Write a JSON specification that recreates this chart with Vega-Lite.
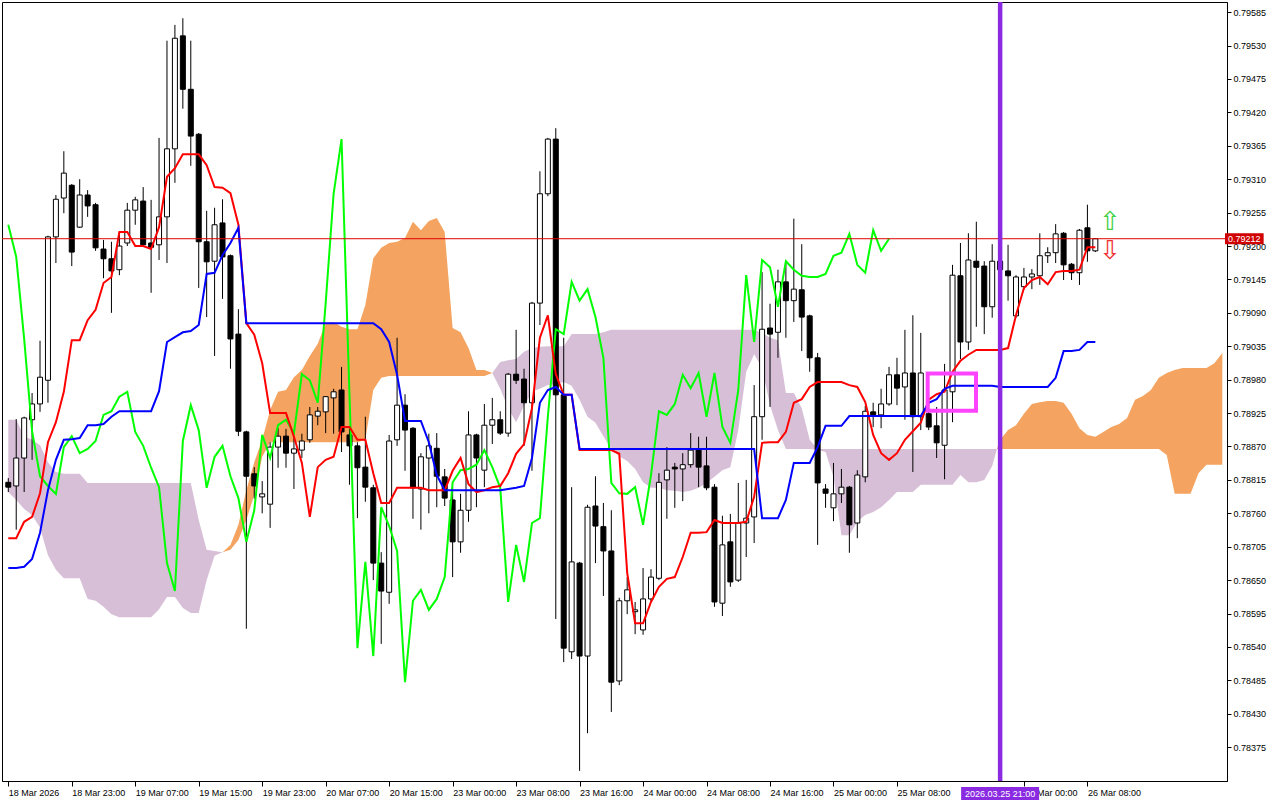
{
"$schema":"https://vega.github.io/schema/vega-lite/v6.json",
"width":1225,"height":779,
"autosize":{"type":"none"},
"padding":{"left":2,"top":2,"right":53,"bottom":19},
"background":"#ffffff",
"resolve":{"axis":{"x":"independent","y":"independent"}},
"config":{"view":{"stroke":"#000000","strokeWidth":1},"axis":{"labelFont":"Liberation Sans","labelFontSize":9,"labelColor":"#000000","tickColor":"#000000","domainColor":"#000000","grid":false,"title":null,"labelOverlap":false}},
"datasets":{
"candles":[
{"i":0,"o":0.78811,"h":0.78818,"l":0.78795,"c":0.78803},
{"i":1,"o":0.78805,"h":0.78915,"l":0.78733,"c":0.78851},
{"i":2,"o":0.78851,"h":0.78919,"l":0.78795,"c":0.78917},
{"i":3,"o":0.78914,"h":0.78958,"l":0.78848,"c":0.78940},
{"i":4,"o":0.78940,"h":0.79044,"l":0.78927,"c":0.78984},
{"i":5,"o":0.78979,"h":0.79217,"l":0.78942,"c":0.79215},
{"i":6,"o":0.79215,"h":0.79284,"l":0.79172,"c":0.79277},
{"i":7,"o":0.79279,"h":0.79356,"l":0.79254,"c":0.79320},
{"i":8,"o":0.79300,"h":0.79302,"l":0.79167,"c":0.79190},
{"i":9,"o":0.79231,"h":0.79310,"l":0.79230,"c":0.79284},
{"i":10,"o":0.79284,"h":0.79292,"l":0.79248,"c":0.79266},
{"i":11,"o":0.79268,"h":0.79271,"l":0.79192,"c":0.79197},
{"i":12,"o":0.79195,"h":0.79210,"l":0.79147,"c":0.79179},
{"i":13,"o":0.79179,"h":0.79207,"l":0.79090,"c":0.79159},
{"i":14,"o":0.79161,"h":0.79223,"l":0.79152,"c":0.79200},
{"i":15,"o":0.79205,"h":0.79271,"l":0.79200,"c":0.79259},
{"i":16,"o":0.79259,"h":0.79281,"l":0.79235,"c":0.79276},
{"i":17,"o":0.79274,"h":0.79297,"l":0.79200,"c":0.79202},
{"i":18,"o":0.79205,"h":0.79276,"l":0.79123,"c":0.79198},
{"i":19,"o":0.79202,"h":0.79378,"l":0.79177,"c":0.79248},
{"i":20,"o":0.79248,"h":0.79538,"l":0.79172,"c":0.79360},
{"i":21,"o":0.79360,"h":0.79564,"l":0.79304,"c":0.79542},
{"i":22,"o":0.79546,"h":0.79575,"l":0.79426,"c":0.79458},
{"i":23,"o":0.79458,"h":0.79538,"l":0.79332,"c":0.79381},
{"i":24,"o":0.79384,"h":0.79386,"l":0.79131,"c":0.79207},
{"i":25,"o":0.79207,"h":0.79258,"l":0.79083,"c":0.79174},
{"i":26,"o":0.79175,"h":0.79263,"l":0.79019,"c":0.79235},
{"i":27,"o":0.79238,"h":0.79277,"l":0.79113,"c":0.79182},
{"i":28,"o":0.79184,"h":0.79186,"l":0.78998,"c":0.79047},
{"i":29,"o":0.79055,"h":0.79096,"l":0.78887,"c":0.78895},
{"i":30,"o":0.78894,"h":0.78896,"l":0.78570,"c":0.78821},
{"i":31,"o":0.78825,"h":0.78836,"l":0.78784,"c":0.78805},
{"i":32,"o":0.78787,"h":0.78813,"l":0.78760,"c":0.78792},
{"i":33,"o":0.78775,"h":0.78877,"l":0.78736,"c":0.78869},
{"i":34,"o":0.78869,"h":0.78900,"l":0.78835,"c":0.78887},
{"i":35,"o":0.78887,"h":0.78899,"l":0.78835,"c":0.78859},
{"i":36,"o":0.78859,"h":0.78887,"l":0.78800,"c":0.78866},
{"i":37,"o":0.78864,"h":0.78891,"l":0.78851,"c":0.78879},
{"i":38,"o":0.78881,"h":0.78935,"l":0.78876,"c":0.78922},
{"i":39,"o":0.78920,"h":0.78935,"l":0.78905,"c":0.78928},
{"i":40,"o":0.78927,"h":0.78953,"l":0.78892,"c":0.78952},
{"i":41,"o":0.78950,"h":0.78965,"l":0.78891,"c":0.78960},
{"i":42,"o":0.78963,"h":0.79001,"l":0.78861,"c":0.78894},
{"i":43,"o":0.78889,"h":0.78900,"l":0.78807,"c":0.78871},
{"i":44,"o":0.78871,"h":0.78877,"l":0.78752,"c":0.78835},
{"i":45,"o":0.78836,"h":0.78919,"l":0.78779,"c":0.78803},
{"i":46,"o":0.78802,"h":0.78807,"l":0.78650,"c":0.78678},
{"i":47,"o":0.78678,"h":0.78696,"l":0.78545,"c":0.78632},
{"i":48,"o":0.78630,"h":0.78889,"l":0.78611,"c":0.78879},
{"i":49,"o":0.78881,"h":0.79049,"l":0.78871,"c":0.78938},
{"i":50,"o":0.78938,"h":0.78956,"l":0.78830,"c":0.78897},
{"i":51,"o":0.78900,"h":0.78902,"l":0.78751,"c":0.78802},
{"i":52,"o":0.78800,"h":0.78859,"l":0.78733,"c":0.78853},
{"i":53,"o":0.78851,"h":0.78891,"l":0.78760,"c":0.78871},
{"i":54,"o":0.78867,"h":0.78892,"l":0.78770,"c":0.78821},
{"i":55,"o":0.78820,"h":0.78833,"l":0.78772,"c":0.78785},
{"i":56,"o":0.78782,"h":0.78803,"l":0.78655,"c":0.78713},
{"i":57,"o":0.78713,"h":0.78792,"l":0.78695,"c":0.78765},
{"i":58,"o":0.78765,"h":0.78928,"l":0.78746,"c":0.78889},
{"i":59,"o":0.78889,"h":0.78891,"l":0.78770,"c":0.78851},
{"i":60,"o":0.78831,"h":0.78940,"l":0.78803,"c":0.78905},
{"i":61,"o":0.78905,"h":0.78950,"l":0.78874,"c":0.78914},
{"i":62,"o":0.78914,"h":0.78928,"l":0.78889,"c":0.78892},
{"i":63,"o":0.78892,"h":0.78991,"l":0.78886,"c":0.78989},
{"i":64,"o":0.78989,"h":0.79062,"l":0.78973,"c":0.78979},
{"i":65,"o":0.78981,"h":0.78998,"l":0.78871,"c":0.78942},
{"i":66,"o":0.78942,"h":0.79108,"l":0.78830,"c":0.79106},
{"i":67,"o":0.79106,"h":0.79323,"l":0.79070,"c":0.79286},
{"i":68,"o":0.79286,"h":0.79378,"l":0.79282,"c":0.79376},
{"i":69,"o":0.79376,"h":0.79394,"l":0.78586,"c":0.78955},
{"i":70,"o":0.78955,"h":0.79049,"l":0.78515,"c":0.78538},
{"i":71,"o":0.78532,"h":0.78803,"l":0.78520,"c":0.78680},
{"i":72,"o":0.78678,"h":0.78680,"l":0.78336,"c":0.78525},
{"i":73,"o":0.78525,"h":0.78774,"l":0.78398,"c":0.78770},
{"i":74,"o":0.78772,"h":0.78821,"l":0.78678,"c":0.78739},
{"i":75,"o":0.78738,"h":0.78777,"l":0.78624,"c":0.78698},
{"i":76,"o":0.78698,"h":0.78765,"l":0.78433,"c":0.78482},
{"i":77,"o":0.78484,"h":0.78621,"l":0.78477,"c":0.78616},
{"i":78,"o":0.78616,"h":0.78655,"l":0.78594,"c":0.78634},
{"i":79,"o":0.78598,"h":0.78614,"l":0.78561,"c":0.78601},
{"i":80,"o":0.78568,"h":0.78670,"l":0.78560,"c":0.78619},
{"i":81,"o":0.78619,"h":0.78668,"l":0.78614,"c":0.78655},
{"i":82,"o":0.78653,"h":0.78826,"l":0.78650,"c":0.78811},
{"i":83,"o":0.78815,"h":0.78869,"l":0.78751,"c":0.78831},
{"i":84,"o":0.78836,"h":0.78843,"l":0.78769,"c":0.78833},
{"i":85,"o":0.78833,"h":0.78859,"l":0.78780,"c":0.78840},
{"i":86,"o":0.78840,"h":0.78892,"l":0.78835,"c":0.78864},
{"i":87,"o":0.78866,"h":0.78886,"l":0.78803,"c":0.78836},
{"i":88,"o":0.78838,"h":0.78886,"l":0.78798,"c":0.78802},
{"i":89,"o":0.78803,"h":0.78808,"l":0.78606,"c":0.78614},
{"i":90,"o":0.78612,"h":0.78756,"l":0.78591,"c":0.78708},
{"i":91,"o":0.78713,"h":0.78759,"l":0.78639,"c":0.78647},
{"i":92,"o":0.78650,"h":0.78810,"l":0.78647,"c":0.78744},
{"i":93,"o":0.78744,"h":0.78815,"l":0.78688,"c":0.78752},
{"i":94,"o":0.78754,"h":0.78971,"l":0.78711,"c":0.78919},
{"i":95,"o":0.78919,"h":0.79157,"l":0.78881,"c":0.79063},
{"i":96,"o":0.79065,"h":0.79105,"l":0.78935,"c":0.79055},
{"i":97,"o":0.79058,"h":0.79161,"l":0.79016,"c":0.79141},
{"i":98,"o":0.79141,"h":0.79175,"l":0.79049,"c":0.79110},
{"i":99,"o":0.79110,"h":0.79245,"l":0.79075,"c":0.79129},
{"i":100,"o":0.79128,"h":0.79203,"l":0.79027,"c":0.79083},
{"i":101,"o":0.79085,"h":0.79087,"l":0.78993,"c":0.79016},
{"i":102,"o":0.79016,"h":0.79024,"l":0.78708,"c":0.78810},
{"i":103,"o":0.78800,"h":0.78808,"l":0.78769,"c":0.78793},
{"i":104,"o":0.78769,"h":0.78843,"l":0.78747,"c":0.78792},
{"i":105,"o":0.78792,"h":0.78833,"l":0.78777,"c":0.78803},
{"i":106,"o":0.78803,"h":0.78805,"l":0.78695,"c":0.78741},
{"i":107,"o":0.78744,"h":0.78831,"l":0.78719,"c":0.78823},
{"i":108,"o":0.78820,"h":0.78937,"l":0.78811,"c":0.78928},
{"i":109,"o":0.78927,"h":0.78942,"l":0.78902,"c":0.78922},
{"i":110,"o":0.78922,"h":0.78965,"l":0.78900,"c":0.78940},
{"i":111,"o":0.78940,"h":0.79001,"l":0.78937,"c":0.78988},
{"i":112,"o":0.78988,"h":0.79016,"l":0.78938,"c":0.78966},
{"i":113,"o":0.78968,"h":0.79062,"l":0.78914,"c":0.78991},
{"i":114,"o":0.78991,"h":0.79086,"l":0.78828,"c":0.78919},
{"i":115,"o":0.78919,"h":0.79057,"l":0.78897,"c":0.78991},
{"i":116,"o":0.78924,"h":0.78950,"l":0.78897,"c":0.78902},
{"i":117,"o":0.78904,"h":0.78935,"l":0.78851,"c":0.78876},
{"i":118,"o":0.78872,"h":0.79006,"l":0.78816,"c":0.78963},
{"i":119,"o":0.78960,"h":0.79169,"l":0.78910,"c":0.79152},
{"i":120,"o":0.79151,"h":0.79205,"l":0.79014,"c":0.79042},
{"i":121,"o":0.79042,"h":0.79221,"l":0.79029,"c":0.79177},
{"i":122,"o":0.79175,"h":0.79240,"l":0.79067,"c":0.79165},
{"i":123,"o":0.79167,"h":0.79175,"l":0.79055,"c":0.79100},
{"i":124,"o":0.79100,"h":0.79203,"l":0.79082,"c":0.79175},
{"i":125,"o":0.79175,"h":0.79203,"l":0.79136,"c":0.79161},
{"i":126,"o":0.79159,"h":0.79202,"l":0.79110,"c":0.79151},
{"i":127,"o":0.79085,"h":0.79152,"l":0.79082,"c":0.79149},
{"i":128,"o":0.79133,"h":0.79164,"l":0.79128,"c":0.79149},
{"i":129,"o":0.79149,"h":0.79162,"l":0.79129,"c":0.79154},
{"i":130,"o":0.79151,"h":0.79221,"l":0.79136,"c":0.79184},
{"i":131,"o":0.79184,"h":0.79198,"l":0.79172,"c":0.79189},
{"i":132,"o":0.79189,"h":0.79236,"l":0.79172,"c":0.79220},
{"i":133,"o":0.79221,"h":0.79223,"l":0.79144,"c":0.79169},
{"i":134,"o":0.79170,"h":0.79172,"l":0.79144,"c":0.79156},
{"i":135,"o":0.79156,"h":0.79228,"l":0.79136,"c":0.79226},
{"i":136,"o":0.79230,"h":0.79268,"l":0.79174,"c":0.79192},
{"i":137,"o":0.79192,"h":0.79213,"l":0.79190,"c":0.79212}
],
"lines":[
{"i":0,"t":0.78719,"k":0.78670},{"i":1,"t":0.78719,"k":0.78670},{"i":2,"t":0.78746,"k":0.78672},{"i":3,"t":0.78754,"k":0.78685},{"i":4,"t":0.78793,"k":0.78728},
{"i":5,"t":0.78877,"k":0.78798},{"i":6,"t":0.78910,"k":0.78848},{"i":7,"t":0.78960,"k":0.78881},{"i":8,"t":0.79045,"k":0.78882},{"i":9,"t":0.79045,"k":0.78884},
{"i":10,"t":0.79078,"k":0.78905},{"i":11,"t":0.79095,"k":0.78905},{"i":12,"t":0.79139,"k":0.78907},{"i":13,"t":0.79149,"k":0.78919},{"i":14,"t":0.79223,"k":0.78928},
{"i":15,"t":0.79223,"k":0.78928},{"i":16,"t":0.79200,"k":0.78928},{"i":17,"t":0.79200,"k":0.78928},{"i":18,"t":0.79195,"k":0.78928},{"i":19,"t":0.79231,"k":0.78961},
{"i":20,"t":0.79314,"k":0.79042},{"i":21,"t":0.79328,"k":0.79050},{"i":22,"t":0.79351,"k":0.79058},{"i":23,"t":0.79351,"k":0.79060},{"i":24,"t":0.79351,"k":0.79070},
{"i":25,"t":0.79333,"k":0.79154},{"i":26,"t":0.79297,"k":0.79156},{"i":27,"t":0.79296,"k":0.79185},{"i":28,"t":0.79287,"k":0.79205},{"i":29,"t":0.79235,"k":0.79230},
{"i":30,"t":0.79073,"k":0.79073},{"i":31,"t":0.79054,"k":0.79073},{"i":32,"t":0.79007,"k":0.79073},{"i":33,"t":0.78925,"k":0.79073},{"i":34,"t":0.78925,"k":0.79073},
{"i":35,"t":0.78925,"k":0.79073},{"i":36,"t":0.78886,"k":0.79073},{"i":37,"t":0.78843,"k":0.79073},{"i":38,"t":0.78754,"k":0.79073},{"i":39,"t":0.78836,"k":0.79073},
{"i":40,"t":0.78848,"k":0.79073},{"i":41,"t":0.78853,"k":0.79073},{"i":42,"t":0.78902,"k":0.79073},{"i":43,"t":0.78902,"k":0.79073},{"i":44,"t":0.78881,"k":0.79073},
{"i":45,"t":0.78881,"k":0.79073},{"i":46,"t":0.78826,"k":0.79073},{"i":47,"t":0.78777,"k":0.79063},{"i":48,"t":0.78777,"k":0.79042},{"i":49,"t":0.78802,"k":0.78988},
{"i":50,"t":0.78802,"k":0.78912},{"i":51,"t":0.78802,"k":0.78912},{"i":52,"t":0.78802,"k":0.78912},{"i":53,"t":0.78798,"k":0.78877},{"i":54,"t":0.78798,"k":0.78823},
{"i":55,"t":0.78798,"k":0.78798},{"i":56,"t":0.78830,"k":0.78798},{"i":57,"t":0.78851,"k":0.78798},{"i":58,"t":0.78808,"k":0.78798},{"i":59,"t":0.78795,"k":0.78798},
{"i":60,"t":0.78798,"k":0.78798},{"i":61,"t":0.78803,"k":0.78798},{"i":62,"t":0.78805,"k":0.78798},{"i":63,"t":0.78826,"k":0.78800},{"i":64,"t":0.78858,"k":0.78802},
{"i":65,"t":0.78874,"k":0.78805},{"i":66,"t":0.78933,"k":0.78851},{"i":67,"t":0.79049,"k":0.78942},{"i":68,"t":0.79086,"k":0.78963},{"i":69,"t":0.78989,"k":0.78968},
{"i":70,"t":0.78955,"k":0.78955},{"i":71,"t":0.78955,"k":0.78955},{"i":72,"t":0.78864,"k":0.78866},{"i":73,"t":0.78864,"k":0.78866},{"i":74,"t":0.78864,"k":0.78866},
{"i":75,"t":0.78864,"k":0.78866},{"i":76,"t":0.78864,"k":0.78866},{"i":77,"t":0.78858,"k":0.78866},{"i":78,"t":0.78662,"k":0.78866},{"i":79,"t":0.78579,"k":0.78866},
{"i":80,"t":0.78579,"k":0.78866},{"i":81,"t":0.78614,"k":0.78866},{"i":82,"t":0.78639,"k":0.78866},{"i":83,"t":0.78652,"k":0.78866},{"i":84,"t":0.78655,"k":0.78866},
{"i":85,"t":0.78688,"k":0.78866},{"i":86,"t":0.78728,"k":0.78866},{"i":87,"t":0.78728,"k":0.78866},{"i":88,"t":0.78729,"k":0.78866},{"i":89,"t":0.78749,"k":0.78866},
{"i":90,"t":0.78744,"k":0.78866},{"i":91,"t":0.78744,"k":0.78866},{"i":92,"t":0.78744,"k":0.78866},{"i":93,"t":0.78746,"k":0.78866},{"i":94,"t":0.78787,"k":0.78866},
{"i":95,"t":0.78876,"k":0.78752},{"i":96,"t":0.78877,"k":0.78752},{"i":97,"t":0.78877,"k":0.78752},{"i":98,"t":0.78894,"k":0.78782},{"i":99,"t":0.78942,"k":0.78843},
{"i":100,"t":0.78948,"k":0.78843},{"i":101,"t":0.78968,"k":0.78843},{"i":102,"t":0.78976,"k":0.78869},{"i":103,"t":0.78976,"k":0.78904},{"i":104,"t":0.78976,"k":0.78904},
{"i":105,"t":0.78976,"k":0.78904},{"i":106,"t":0.78971,"k":0.78920},{"i":107,"t":0.78968,"k":0.78920},{"i":108,"t":0.78943,"k":0.78920},{"i":109,"t":0.78889,"k":0.78920},
{"i":110,"t":0.78859,"k":0.78920},{"i":111,"t":0.78848,"k":0.78920},{"i":112,"t":0.78859,"k":0.78920},{"i":113,"t":0.78881,"k":0.78920},{"i":114,"t":0.78895,"k":0.78920},
{"i":115,"t":0.78909,"k":0.78920},{"i":116,"t":0.78947,"k":0.78942},{"i":117,"t":0.78956,"k":0.78948},{"i":118,"t":0.78960,"k":0.78965},{"i":119,"t":0.78993,"k":0.78970},
{"i":120,"t":0.79011,"k":0.78970},{"i":121,"t":0.79021,"k":0.78970},{"i":122,"t":0.79029,"k":0.78970},{"i":123,"t":0.79029,"k":0.78970},{"i":124,"t":0.79029,"k":0.78970},
{"i":125,"t":0.79029,"k":0.78968},{"i":126,"t":0.79032,"k":0.78968},{"i":127,"t":0.79086,"k":0.78968},{"i":128,"t":0.79131,"k":0.78968},{"i":129,"t":0.79144,"k":0.78968},
{"i":130,"t":0.79149,"k":0.78968},{"i":131,"t":0.79137,"k":0.78968},{"i":132,"t":0.79157,"k":0.78983},{"i":133,"t":0.79159,"k":0.79027},{"i":134,"t":0.79159,"k":0.79027},
{"i":135,"t":0.79161,"k":0.79029},{"i":136,"t":0.79198,"k":0.79042},{"i":137,"t":0.79198,"k":0.79042}
],
"chikou":[
{"i":0,"v":0.79235},{"i":1,"v":0.79182},{"i":2,"v":0.79047},{"i":3,"v":0.78895},{"i":4,"v":0.78821},{"i":5,"v":0.78805},{"i":6,"v":0.78792},{"i":7,"v":0.78869},{"i":8,"v":0.78887},{"i":9,"v":0.78859},
{"i":10,"v":0.78866},{"i":11,"v":0.78879},{"i":12,"v":0.78922},{"i":13,"v":0.78928},{"i":14,"v":0.78952},{"i":15,"v":0.78960},{"i":16,"v":0.78894},{"i":17,"v":0.78871},{"i":18,"v":0.78835},{"i":19,"v":0.78803},
{"i":20,"v":0.78678},{"i":21,"v":0.78632},{"i":22,"v":0.78879},{"i":23,"v":0.78938},{"i":24,"v":0.78897},{"i":25,"v":0.78802},{"i":26,"v":0.78853},{"i":27,"v":0.78871},{"i":28,"v":0.78821},{"i":29,"v":0.78785},
{"i":30,"v":0.78713},{"i":31,"v":0.78765},{"i":32,"v":0.78889},{"i":33,"v":0.78851},{"i":34,"v":0.78905},{"i":35,"v":0.78914},{"i":36,"v":0.78892},{"i":37,"v":0.78989},{"i":38,"v":0.78979},{"i":39,"v":0.78942},
{"i":40,"v":0.79106},{"i":41,"v":0.79286},{"i":42,"v":0.79376},{"i":43,"v":0.78955},{"i":44,"v":0.78538},{"i":45,"v":0.78680},{"i":46,"v":0.78525},{"i":47,"v":0.78770},{"i":48,"v":0.78739},{"i":49,"v":0.78698},
{"i":50,"v":0.78482},{"i":51,"v":0.78616},{"i":52,"v":0.78634},{"i":53,"v":0.78601},{"i":54,"v":0.78619},{"i":55,"v":0.78655},{"i":56,"v":0.78811},{"i":57,"v":0.78831},{"i":58,"v":0.78833},{"i":59,"v":0.78840},
{"i":60,"v":0.78864},{"i":61,"v":0.78836},{"i":62,"v":0.78802},{"i":63,"v":0.78614},{"i":64,"v":0.78708},{"i":65,"v":0.78647},{"i":66,"v":0.78744},{"i":67,"v":0.78752},{"i":68,"v":0.78919},{"i":69,"v":0.79063},
{"i":70,"v":0.79055},{"i":71,"v":0.79141},{"i":72,"v":0.79110},{"i":73,"v":0.79129},{"i":74,"v":0.79083},{"i":75,"v":0.79016},{"i":76,"v":0.78810},{"i":77,"v":0.78793},{"i":78,"v":0.78792},{"i":79,"v":0.78803},
{"i":80,"v":0.78741},{"i":81,"v":0.78823},{"i":82,"v":0.78928},{"i":83,"v":0.78922},{"i":84,"v":0.78940},{"i":85,"v":0.78988},{"i":86,"v":0.78966},{"i":87,"v":0.78991},{"i":88,"v":0.78919},{"i":89,"v":0.78991},
{"i":90,"v":0.78902},{"i":91,"v":0.78876},{"i":92,"v":0.78963},{"i":93,"v":0.79152},{"i":94,"v":0.79042},{"i":95,"v":0.79177},{"i":96,"v":0.79165},{"i":97,"v":0.79100},{"i":98,"v":0.79175},{"i":99,"v":0.79161},
{"i":100,"v":0.79151},{"i":101,"v":0.79149},{"i":102,"v":0.79149},{"i":103,"v":0.79154},{"i":104,"v":0.79184},{"i":105,"v":0.79189},{"i":106,"v":0.79220},{"i":107,"v":0.79169},{"i":108,"v":0.79156},{"i":109,"v":0.79226},
{"i":110,"v":0.79192},{"i":111,"v":0.79212}
],
"kumo":[
{"i":0,"hi":0.78914,"lo":0.78795,"seg":1,"kind":"bear"},{"i":1,"hi":0.78914,"lo":0.78782,"seg":1,"kind":"bear"},{"i":2,"hi":0.78887,"lo":0.78767,"seg":1,"kind":"bear"},{"i":3,"hi":0.78881,"lo":0.78757,"seg":1,"kind":"bear"},{"i":4,"hi":0.78872,"lo":0.78736,"seg":1,"kind":"bear"},
{"i":5,"hi":0.78844,"lo":0.78691,"seg":1,"kind":"bear"},{"i":6,"hi":0.78828,"lo":0.78667,"seg":1,"kind":"bear"},{"i":7,"hi":0.78825,"lo":0.78653,"seg":1,"kind":"bear"},{"i":8,"hi":0.78825,"lo":0.78653,"seg":1,"kind":"bear"},{"i":9,"hi":0.78825,"lo":0.78653,"seg":1,"kind":"bear"},
{"i":10,"hi":0.78810,"lo":0.78619,"seg":1,"kind":"bear"},{"i":11,"hi":0.78810,"lo":0.78616,"seg":1,"kind":"bear"},{"i":12,"hi":0.78810,"lo":0.78606,"seg":1,"kind":"bear"},{"i":13,"hi":0.78810,"lo":0.78594,"seg":1,"kind":"bear"},{"i":14,"hi":0.78810,"lo":0.78589,"seg":1,"kind":"bear"},
{"i":15,"hi":0.78810,"lo":0.78589,"seg":1,"kind":"bear"},{"i":16,"hi":0.78810,"lo":0.78589,"seg":1,"kind":"bear"},{"i":17,"hi":0.78810,"lo":0.78589,"seg":1,"kind":"bear"},{"i":18,"hi":0.78810,"lo":0.78589,"seg":1,"kind":"bear"},{"i":19,"hi":0.78810,"lo":0.78602,"seg":1,"kind":"bear"},
{"i":20,"hi":0.78810,"lo":0.78622,"seg":1,"kind":"bear"},{"i":21,"hi":0.78810,"lo":0.78622,"seg":1,"kind":"bear"},{"i":22,"hi":0.78810,"lo":0.78604,"seg":1,"kind":"bear"},{"i":23,"hi":0.78810,"lo":0.78596,"seg":1,"kind":"bear"},{"i":24,"hi":0.78749,"lo":0.78596,"seg":1,"kind":"bear"},
{"i":25,"hi":0.78700,"lo":0.78650,"seg":1,"kind":"bear"},{"i":26,"hi":0.78698,"lo":0.78690,"seg":1,"kind":"bear"},{"i":27,"hi":0.78696,"lo":0.78696,"seg":1,"kind":"bear"},
{"i":27,"hi":0.78696,"lo":0.78696,"seg":2,"kind":"bull"},{"i":28,"hi":0.78708,"lo":0.78700,"seg":2,"kind":"bull"},{"i":29,"hi":0.78741,"lo":0.78716,"seg":2,"kind":"bull"},{"i":30,"hi":0.78798,"lo":0.78749,"seg":2,"kind":"bull"},
{"i":31,"hi":0.78844,"lo":0.78790,"seg":2,"kind":"bull"},{"i":32,"hi":0.78881,"lo":0.78853,"seg":2,"kind":"bull"},{"i":33,"hi":0.78930,"lo":0.78877,"seg":2,"kind":"bull"},{"i":34,"hi":0.78960,"lo":0.78877,"seg":2,"kind":"bull"},
{"i":35,"hi":0.78963,"lo":0.78877,"seg":2,"kind":"bull"},{"i":36,"hi":0.78984,"lo":0.78877,"seg":2,"kind":"bull"},{"i":37,"hi":0.78996,"lo":0.78877,"seg":2,"kind":"bull"},{"i":38,"hi":0.79019,"lo":0.78877,"seg":2,"kind":"bull"},
{"i":39,"hi":0.79039,"lo":0.78877,"seg":2,"kind":"bull"},{"i":40,"hi":0.79073,"lo":0.78877,"seg":2,"kind":"bull"},{"i":41,"hi":0.79075,"lo":0.78877,"seg":2,"kind":"bull"},{"i":42,"hi":0.79067,"lo":0.78877,"seg":2,"kind":"bull"},
{"i":43,"hi":0.79063,"lo":0.78877,"seg":2,"kind":"bull"},{"i":44,"hi":0.79063,"lo":0.78877,"seg":2,"kind":"bull"},{"i":45,"hi":0.79103,"lo":0.78881,"seg":2,"kind":"bull"},{"i":46,"hi":0.79180,"lo":0.78963,"seg":2,"kind":"bull"},
{"i":47,"hi":0.79197,"lo":0.78983,"seg":2,"kind":"bull"},{"i":48,"hi":0.79205,"lo":0.78986,"seg":2,"kind":"bull"},{"i":49,"hi":0.79207,"lo":0.78986,"seg":2,"kind":"bull"},{"i":50,"hi":0.79213,"lo":0.78986,"seg":2,"kind":"bull"},
{"i":51,"hi":0.79240,"lo":0.78986,"seg":2,"kind":"bull"},{"i":52,"hi":0.79226,"lo":0.78986,"seg":2,"kind":"bull"},{"i":53,"hi":0.79241,"lo":0.78986,"seg":2,"kind":"bull"},{"i":54,"hi":0.79246,"lo":0.78986,"seg":2,"kind":"bull"},
{"i":55,"hi":0.79223,"lo":0.78986,"seg":2,"kind":"bull"},{"i":56,"hi":0.79065,"lo":0.78986,"seg":2,"kind":"bull"},{"i":57,"hi":0.79058,"lo":0.78986,"seg":2,"kind":"bull"},{"i":58,"hi":0.79032,"lo":0.78986,"seg":2,"kind":"bull"},
{"i":59,"hi":0.78996,"lo":0.78986,"seg":2,"kind":"bull"},{"i":60,"hi":0.78996,"lo":0.78986,"seg":2,"kind":"bull"},{"i":61,"hi":0.78991,"lo":0.78991,"seg":2,"kind":"bull"},
{"i":61,"hi":0.78991,"lo":0.78991,"seg":3,"kind":"bear"},{"i":62,"hi":0.79009,"lo":0.78965,"seg":3,"kind":"bear"},{"i":63,"hi":0.79012,"lo":0.78933,"seg":3,"kind":"bear"},{"i":64,"hi":0.79014,"lo":0.78910,"seg":3,"kind":"bear"},
{"i":65,"hi":0.79026,"lo":0.78937,"seg":3,"kind":"bear"},{"i":66,"hi":0.79032,"lo":0.78960,"seg":3,"kind":"bear"},{"i":67,"hi":0.79034,"lo":0.78965,"seg":3,"kind":"bear"},{"i":68,"hi":0.79035,"lo":0.78971,"seg":3,"kind":"bear"},
{"i":69,"hi":0.79035,"lo":0.78973,"seg":3,"kind":"bear"},{"i":70,"hi":0.79035,"lo":0.78976,"seg":3,"kind":"bear"},{"i":71,"hi":0.79055,"lo":0.78970,"seg":3,"kind":"bear"},{"i":72,"hi":0.79055,"lo":0.78947,"seg":3,"kind":"bear"},
{"i":73,"hi":0.79055,"lo":0.78919,"seg":3,"kind":"bear"},{"i":74,"hi":0.79055,"lo":0.78909,"seg":3,"kind":"bear"},{"i":75,"hi":0.79058,"lo":0.78887,"seg":3,"kind":"bear"},{"i":76,"hi":0.79062,"lo":0.78866,"seg":3,"kind":"bear"},
{"i":77,"hi":0.79062,"lo":0.78854,"seg":3,"kind":"bear"},{"i":78,"hi":0.79062,"lo":0.78846,"seg":3,"kind":"bear"},{"i":79,"hi":0.79062,"lo":0.78833,"seg":3,"kind":"bear"},{"i":80,"hi":0.79062,"lo":0.78811,"seg":3,"kind":"bear"},
{"i":81,"hi":0.79062,"lo":0.78802,"seg":3,"kind":"bear"},{"i":82,"hi":0.79062,"lo":0.78802,"seg":3,"kind":"bear"},{"i":83,"hi":0.79062,"lo":0.78798,"seg":3,"kind":"bear"},{"i":84,"hi":0.79062,"lo":0.78797,"seg":3,"kind":"bear"},
{"i":85,"hi":0.79062,"lo":0.78795,"seg":3,"kind":"bear"},{"i":86,"hi":0.79062,"lo":0.78797,"seg":3,"kind":"bear"},{"i":87,"hi":0.79062,"lo":0.78802,"seg":3,"kind":"bear"},{"i":88,"hi":0.79062,"lo":0.78810,"seg":3,"kind":"bear"},
{"i":89,"hi":0.79062,"lo":0.78820,"seg":3,"kind":"bear"},{"i":90,"hi":0.79062,"lo":0.78831,"seg":3,"kind":"bear"},{"i":91,"hi":0.79062,"lo":0.78836,"seg":3,"kind":"bear"},{"i":92,"hi":0.79062,"lo":0.78897,"seg":3,"kind":"bear"},
{"i":93,"hi":0.79062,"lo":0.78993,"seg":3,"kind":"bear"},{"i":94,"hi":0.79062,"lo":0.79022,"seg":3,"kind":"bear"},{"i":95,"hi":0.79057,"lo":0.78999,"seg":3,"kind":"bear"},{"i":96,"hi":0.79049,"lo":0.78938,"seg":3,"kind":"bear"},
{"i":97,"hi":0.79045,"lo":0.78897,"seg":3,"kind":"bear"},{"i":98,"hi":0.78958,"lo":0.78866,"seg":3,"kind":"bear"},{"i":99,"hi":0.78958,"lo":0.78866,"seg":3,"kind":"bear"},{"i":100,"hi":0.78933,"lo":0.78866,"seg":3,"kind":"bear"},
{"i":101,"hi":0.78881,"lo":0.78866,"seg":3,"kind":"bear"},{"i":102,"hi":0.78866,"lo":0.78864,"seg":3,"kind":"bear"},{"i":103,"hi":0.78866,"lo":0.78861,"seg":3,"kind":"bear"},{"i":104,"hi":0.78866,"lo":0.78820,"seg":3,"kind":"bear"},
{"i":105,"hi":0.78866,"lo":0.78724,"seg":3,"kind":"bear"},{"i":106,"hi":0.78866,"lo":0.78724,"seg":3,"kind":"bear"},{"i":107,"hi":0.78866,"lo":0.78746,"seg":3,"kind":"bear"},{"i":108,"hi":0.78866,"lo":0.78757,"seg":3,"kind":"bear"},
{"i":109,"hi":0.78866,"lo":0.78762,"seg":3,"kind":"bear"},{"i":110,"hi":0.78866,"lo":0.78770,"seg":3,"kind":"bear"},{"i":111,"hi":0.78866,"lo":0.78782,"seg":3,"kind":"bear"},{"i":112,"hi":0.78866,"lo":0.78795,"seg":3,"kind":"bear"},
{"i":113,"hi":0.78866,"lo":0.78795,"seg":3,"kind":"bear"},{"i":114,"hi":0.78866,"lo":0.78795,"seg":3,"kind":"bear"},{"i":115,"hi":0.78866,"lo":0.78807,"seg":3,"kind":"bear"},{"i":116,"hi":0.78866,"lo":0.78807,"seg":3,"kind":"bear"},
{"i":117,"hi":0.78866,"lo":0.78807,"seg":3,"kind":"bear"},{"i":118,"hi":0.78866,"lo":0.78807,"seg":3,"kind":"bear"},{"i":119,"hi":0.78866,"lo":0.78807,"seg":3,"kind":"bear"},{"i":120,"hi":0.78866,"lo":0.78823,"seg":3,"kind":"bear"},
{"i":121,"hi":0.78866,"lo":0.78811,"seg":3,"kind":"bear"},{"i":122,"hi":0.78866,"lo":0.78811,"seg":3,"kind":"bear"},{"i":123,"hi":0.78866,"lo":0.78815,"seg":3,"kind":"bear"},{"i":124,"hi":0.78866,"lo":0.78838,"seg":3,"kind":"bear"},
{"i":124.6,"hi":0.78866,"lo":0.78866,"seg":3,"kind":"bear"},
{"i":124.6,"hi":0.78866,"lo":0.78866,"seg":4,"kind":"bull"},{"i":125,"hi":0.78881,"lo":0.78866,"seg":4,"kind":"bull"},{"i":126,"hi":0.78897,"lo":0.78866,"seg":4,"kind":"bull"},{"i":127,"hi":0.78905,"lo":0.78866,"seg":4,"kind":"bull"},
{"i":128,"hi":0.78924,"lo":0.78866,"seg":4,"kind":"bull"},{"i":129,"hi":0.78940,"lo":0.78866,"seg":4,"kind":"bull"},{"i":130,"hi":0.78943,"lo":0.78866,"seg":4,"kind":"bull"},{"i":131,"hi":0.78945,"lo":0.78866,"seg":4,"kind":"bull"},
{"i":132,"hi":0.78945,"lo":0.78866,"seg":4,"kind":"bull"},{"i":133,"hi":0.78942,"lo":0.78866,"seg":4,"kind":"bull"},{"i":134,"hi":0.78924,"lo":0.78866,"seg":4,"kind":"bull"},{"i":135,"hi":0.78900,"lo":0.78866,"seg":4,"kind":"bull"},
{"i":136,"hi":0.78889,"lo":0.78866,"seg":4,"kind":"bull"},{"i":137,"hi":0.78886,"lo":0.78866,"seg":4,"kind":"bull"},{"i":138,"hi":0.78894,"lo":0.78866,"seg":4,"kind":"bull"},{"i":139,"hi":0.78902,"lo":0.78866,"seg":4,"kind":"bull"},
{"i":140,"hi":0.78907,"lo":0.78866,"seg":4,"kind":"bull"},{"i":141,"hi":0.78917,"lo":0.78866,"seg":4,"kind":"bull"},{"i":142,"hi":0.78947,"lo":0.78866,"seg":4,"kind":"bull"},{"i":143,"hi":0.78953,"lo":0.78866,"seg":4,"kind":"bull"},
{"i":144,"hi":0.78963,"lo":0.78866,"seg":4,"kind":"bull"},{"i":145,"hi":0.78983,"lo":0.78866,"seg":4,"kind":"bull"},{"i":146,"hi":0.78991,"lo":0.78856,"seg":4,"kind":"bull"},{"i":147,"hi":0.78996,"lo":0.78792,"seg":4,"kind":"bull"},
{"i":148,"hi":0.78999,"lo":0.78792,"seg":4,"kind":"bull"},{"i":149,"hi":0.78999,"lo":0.78792,"seg":4,"kind":"bull"},{"i":150,"hi":0.78999,"lo":0.78826,"seg":4,"kind":"bull"},{"i":151,"hi":0.78999,"lo":0.78840,"seg":4,"kind":"bull"},
{"i":152,"hi":0.79007,"lo":0.78840,"seg":4,"kind":"bull"},{"i":153,"hi":0.79024,"lo":0.78840,"seg":4,"kind":"bull"}
],
"bid":[{"p":0.79212,"label":"0.79212"}],
"vline":[{"i":125,"label":"2026.03.25 21:00"}],
"box":[{"i1":115.87,"i2":121.96,"p1":0.78990,"p2":0.78929}],
"arrows":[{"i":138.84,"p":0.79239,"glyph":"⇧","dir":"up"},{"i":138.84,"p":0.79191,"glyph":"⇩","dir":"down"}]
},
"layer":[
{"data":{"name":"kumo"},"mark":{"type":"area","clip":true,"interpolate":"linear"},
 "encoding":{
  "x":{"field":"i","type":"quantitative","scale":{"domain":[-0.1625,152.9625],"nice":false,"zero":false},
   "axis":{"orient":"bottom","values":[0,8,16,24,32,40,48,56,64,72,80,88,96,104,112,128,136],"labelAlign":"left","labelBaseline":"top","labelPadding":2,"tickSize":5,"labelFlush":false,"labelDx":0,
   "labelExpr":"['18 Mar 2026','18 Mar 23:00','19 Mar 07:00','19 Mar 15:00','19 Mar 23:00','20 Mar 07:00','20 Mar 15:00','23 Mar 00:00','23 Mar 08:00','23 Mar 16:00','24 Mar 00:00','24 Mar 08:00','24 Mar 16:00','25 Mar 00:00','25 Mar 08:00','25 Mar 16:00','26 Mar 00:00','26 Mar 08:00'][round(datum.value/8)]"}},
  "y":{"field":"hi","type":"quantitative","stack":null,"scale":{"domain":[0.783193,0.796017],"nice":false,"zero":false},
   "axis":{"orient":"right","values":[0.79585,0.7953,0.79475,0.7942,0.79365,0.7931,0.79255,0.792,0.79145,0.7909,0.79035,0.7898,0.78925,0.7887,0.78815,0.7876,0.78705,0.7865,0.78595,0.7854,0.78485,0.7843,0.78375],"format":".5f","tickSize":4,"labelPadding":2,"labelBaseline":"middle"}},
  "y2":{"field":"lo"},
  "color":{"field":"kind","type":"nominal","scale":{"domain":["bull","bear"],"range":["#f4a460","#d8bfd8"]},"legend":null},
  "detail":{"field":"seg","type":"nominal"}}},
{"data":{"name":"candles"},"mark":{"type":"rule","color":"#000000","strokeWidth":1,"clip":true},
 "encoding":{"x":{"field":"i","type":"quantitative","scale":{"domain":[-0.1625,152.9625],"nice":false,"zero":false},"axis":null},
  "y":{"field":"l","type":"quantitative","scale":{"domain":[0.783193,0.796017],"nice":false,"zero":false},"axis":null},"y2":{"field":"h"}}},
{"data":{"name":"candles"},"mark":{"type":"bar","size":5,"stroke":"#000000","strokeWidth":1,"clip":true},
 "encoding":{"x":{"field":"i","type":"quantitative","scale":{"domain":[-0.1625,152.9625],"nice":false,"zero":false},"axis":null},
  "y":{"field":"o","type":"quantitative","scale":{"domain":[0.783193,0.796017],"nice":false,"zero":false},"axis":null},"y2":{"field":"c"},
  "fill":{"condition":{"test":"datum.c < datum.o","value":"#000000"},"value":"#ffffff"}}},
{"data":{"name":"chikou"},"mark":{"type":"line","color":"#00ff00","strokeWidth":2,"clip":true},
 "encoding":{"x":{"field":"i","type":"quantitative","scale":{"domain":[-0.1625,152.9625],"nice":false,"zero":false},"axis":null},
  "y":{"field":"v","type":"quantitative","scale":{"domain":[0.783193,0.796017],"nice":false,"zero":false},"axis":null}}},
{"data":{"name":"lines"},"mark":{"type":"line","color":"#ff0000","strokeWidth":2,"clip":true},
 "encoding":{"x":{"field":"i","type":"quantitative","scale":{"domain":[-0.1625,152.9625],"nice":false,"zero":false},"axis":null},
  "y":{"field":"t","type":"quantitative","scale":{"domain":[0.783193,0.796017],"nice":false,"zero":false},"axis":null}}},
{"data":{"name":"lines"},"mark":{"type":"line","color":"#0000ff","strokeWidth":2,"clip":true},
 "encoding":{"x":{"field":"i","type":"quantitative","scale":{"domain":[-0.1625,152.9625],"nice":false,"zero":false},"axis":null},
  "y":{"field":"k","type":"quantitative","scale":{"domain":[0.783193,0.796017],"nice":false,"zero":false},"axis":null}}},
{"data":{"name":"bid"},"mark":{"type":"rule","color":"#e00000","strokeWidth":1},
 "encoding":{"y":{"field":"p","type":"quantitative","scale":{"domain":[0.783193,0.796017],"nice":false,"zero":false},"axis":null}}},
{"data":{"name":"vline"},"mark":{"type":"rule","color":"#8a2be2","strokeWidth":4.5},
 "encoding":{"x":{"field":"i","type":"quantitative","scale":{"domain":[-0.1625,152.9625],"nice":false,"zero":false},"axis":null}}},
{"data":{"name":"box"},"mark":{"type":"rect","fill":null,"fillOpacity":0,"stroke":"#ff44ff","strokeWidth":4},
 "encoding":{"x":{"field":"i1","type":"quantitative","scale":{"domain":[-0.1625,152.9625],"nice":false,"zero":false},"axis":null},"x2":{"field":"i2"},
  "y":{"field":"p1","type":"quantitative","scale":{"domain":[0.783193,0.796017],"nice":false,"zero":false},"axis":null},"y2":{"field":"p2"}}},
{"data":{"name":"arrows"},"mark":{"type":"text","font":"DejaVu Sans","fontSize":26,"align":"center","baseline":"middle","clip":false},
 "encoding":{"x":{"field":"i","type":"quantitative","scale":{"domain":[-0.1625,152.9625],"nice":false,"zero":false},"axis":null},
  "y":{"field":"p","type":"quantitative","scale":{"domain":[0.783193,0.796017],"nice":false,"zero":false},"axis":null},
  "text":{"field":"glyph"},
  "color":{"condition":{"test":"datum.dir == 'up'","value":"#3fcf3f"},"value":"#ee3030"}}},
{"data":{"name":"bid"},"mark":{"type":"rule","color":"#d00000","strokeWidth":11,"strokeCap":"butt","clip":false},
 "encoding":{"x":{"datum":153.34,"type":"quantitative","scale":{"domain":[-0.1625,152.9625],"nice":false,"zero":false},"axis":null},"x2":{"datum":158.21},
  "y":{"field":"p","type":"quantitative","scale":{"domain":[0.783193,0.796017],"nice":false,"zero":false},"axis":null}}},
{"data":{"name":"bid"},"mark":{"type":"text","color":"#ffffff","font":"Liberation Sans","fontSize":9,"align":"left","baseline":"middle","clip":false},
 "encoding":{"x":{"datum":153.71,"type":"quantitative","scale":{"domain":[-0.1625,152.9625],"nice":false,"zero":false},"axis":null},
  "y":{"field":"p","type":"quantitative","scale":{"domain":[0.783193,0.796017],"nice":false,"zero":false},"axis":null},"text":{"field":"label"}}},
{"data":{"name":"vline"},"mark":{"type":"rule","color":"#8a2be2","strokeWidth":78,"strokeCap":"butt","clip":false},
 "encoding":{"x":{"field":"i","type":"quantitative","scale":{"domain":[-0.1625,152.9625],"nice":false,"zero":false},"axis":null},
  "y":{"datum":0.783094,"type":"quantitative","scale":{"domain":[0.783193,0.796017],"nice":false,"zero":false},"axis":null},"y2":{"datum":0.78288}}},
{"data":{"name":"vline"},"mark":{"type":"text","color":"#ffffff","font":"Liberation Sans","fontSize":9,"align":"center","baseline":"middle","clip":false},
 "encoding":{"x":{"field":"i","type":"quantitative","scale":{"domain":[-0.1625,152.9625],"nice":false,"zero":false},"axis":null},
  "y":{"datum":0.782987,"type":"quantitative","scale":{"domain":[0.783193,0.796017],"nice":false,"zero":false},"axis":null},"text":{"field":"label"}}}
]
}
